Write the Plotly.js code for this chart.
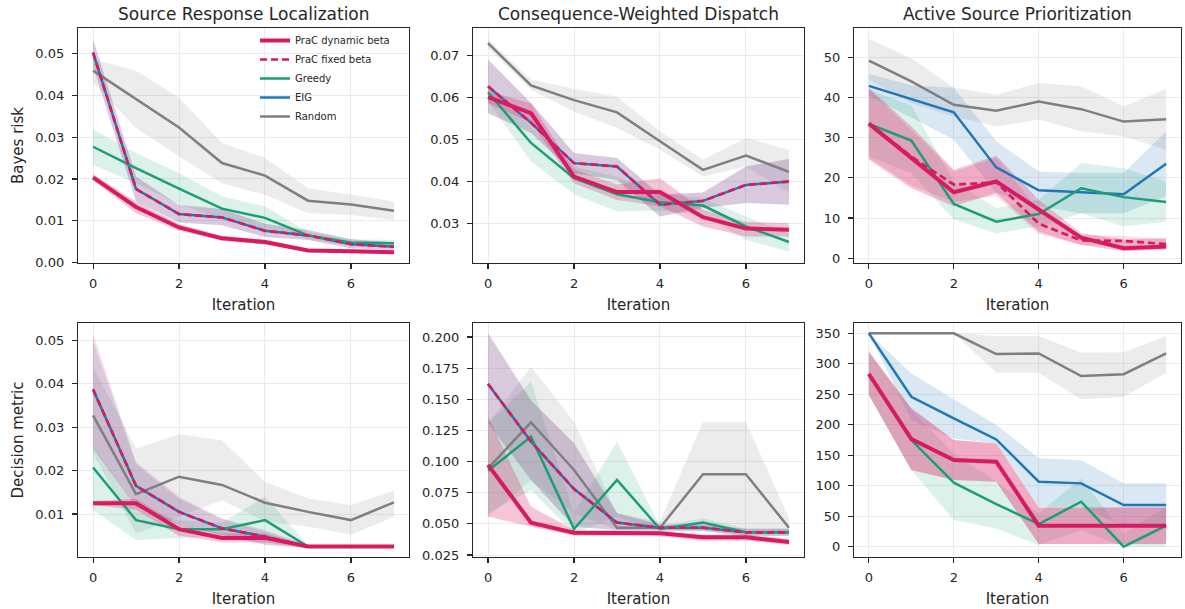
<!DOCTYPE html>
<html>
<head>
<meta charset="utf-8">
<script src="https://cdn.plot.ly/plotly-3.0.1.min.js"></script>
<style>html,body{margin:0;padding:0;background:#fff;}#chart{width:1185px;height:609px;}</style>
</head>
<body>
<div id="chart"></div>
<script>
// ---------- data ----------
const iterations = [0, 1, 2, 3, 4, 5, 6, 7];
const methodNames = ["PraC dynamic beta", "PraC fixed beta", "Greedy", "EIG", "Random"];
const panelTitles = ["Source Response Localization", "Consequence-Weighted Dispatch", "Active Source Prioritization"];
const rowLabels = ["Bayes risk", "Decision metric"];

// Source Response Localization - Bayes risk
const srlRisk_dyn      = [0.0204, 0.0133, 0.0084, 0.0058, 0.0049, 0.0029, 0.0027, 0.0025];
const srlRisk_dyn_lo   = [0.0196, 0.0118, 0.0076, 0.0052, 0.0043, 0.0025, 0.0023, 0.0021];
const srlRisk_dyn_hi   = [0.0212, 0.0146, 0.0092, 0.0064, 0.0055, 0.0033, 0.0031, 0.0029];
const srlRisk_fix      = [0.0502, 0.0176, 0.0116, 0.0108, 0.0076, 0.0065, 0.0044, 0.0038];
const srlRisk_fix_lo   = [0.0470, 0.0146, 0.0096, 0.0089, 0.0061, 0.0054, 0.0034, 0.0030];
const srlRisk_fix_hi   = [0.0534, 0.0206, 0.0138, 0.0128, 0.0093, 0.0078, 0.0056, 0.0048];
const srlRisk_grd      = [0.0277, 0.0226, 0.0177, 0.0129, 0.0107, 0.0065, 0.0048, 0.0046];
const srlRisk_grd_lo   = [0.0234, 0.0190, 0.0140, 0.0102, 0.0080, 0.0056, 0.0040, 0.0038];
const srlRisk_grd_hi   = [0.0318, 0.0262, 0.0214, 0.0158, 0.0134, 0.0074, 0.0056, 0.0054];
const srlRisk_eig      = [0.0502, 0.0176, 0.0116, 0.0108, 0.0076, 0.0065, 0.0044, 0.0038];
const srlRisk_eig_lo   = [0.0470, 0.0146, 0.0096, 0.0089, 0.0061, 0.0054, 0.0034, 0.0030];
const srlRisk_eig_hi   = [0.0534, 0.0206, 0.0138, 0.0128, 0.0093, 0.0078, 0.0056, 0.0048];
const srlRisk_rnd      = [0.0459, 0.0390, 0.0323, 0.0238, 0.0208, 0.0148, 0.0139, 0.0124];
const srlRisk_rnd_lo   = [0.0430, 0.0322, 0.0254, 0.0190, 0.0162, 0.0118, 0.0114, 0.0102];
const srlRisk_rnd_hi   = [0.0486, 0.0459, 0.0394, 0.0286, 0.0250, 0.0178, 0.0162, 0.0146];

// Consequence-Weighted Dispatch - Bayes risk
const cwdRisk_dyn      = [0.0600, 0.0562, 0.0411, 0.0374, 0.0374, 0.0314, 0.0287, 0.0284];
const cwdRisk_dyn_lo   = [0.0585, 0.0540, 0.0395, 0.0355, 0.0340, 0.0292, 0.0268, 0.0268];
const cwdRisk_dyn_hi   = [0.0615, 0.0585, 0.0428, 0.0392, 0.0407, 0.0332, 0.0303, 0.0300];
const cwdRisk_fix      = [0.0626, 0.0539, 0.0443, 0.0435, 0.0344, 0.0353, 0.0391, 0.0399];
const cwdRisk_fix_lo   = [0.0562, 0.0515, 0.0419, 0.0403, 0.0316, 0.0336, 0.0348, 0.0344];
const cwdRisk_fix_hi   = [0.0690, 0.0586, 0.0467, 0.0455, 0.0368, 0.0373, 0.0435, 0.0453];
const cwdRisk_grd      = [0.0612, 0.0491, 0.0407, 0.0369, 0.0350, 0.0342, 0.0292, 0.0255];
const cwdRisk_grd_lo   = [0.0590, 0.0447, 0.0368, 0.0328, 0.0330, 0.0320, 0.0260, 0.0232];
const cwdRisk_grd_hi   = [0.0625, 0.0531, 0.0435, 0.0410, 0.0370, 0.0360, 0.0316, 0.0276];
const cwdRisk_eig      = [0.0626, 0.0539, 0.0443, 0.0435, 0.0344, 0.0353, 0.0391, 0.0399];
const cwdRisk_eig_lo   = [0.0562, 0.0515, 0.0419, 0.0403, 0.0316, 0.0336, 0.0348, 0.0344];
const cwdRisk_eig_hi   = [0.0690, 0.0586, 0.0467, 0.0455, 0.0368, 0.0373, 0.0435, 0.0453];
const cwdRisk_rnd      = [0.0729, 0.0628, 0.0593, 0.0564, 0.0495, 0.0427, 0.0461, 0.0422];
const cwdRisk_rnd_lo   = [0.0717, 0.0618, 0.0566, 0.0527, 0.0475, 0.0411, 0.0435, 0.0372];
const cwdRisk_rnd_hi   = [0.0739, 0.0642, 0.0620, 0.0601, 0.0519, 0.0451, 0.0503, 0.0475];

// Active Source Prioritization - Bayes risk
const aspRisk_dyn      = [33.5, 24.9, 16.4, 19.1, 12.0, 5.1, 2.5, 2.9];
const aspRisk_dyn_lo   = [24.5, 17.4, 12.9, 16.2, 6.6, 3.3, 1.7, 2.1];
const aspRisk_dyn_hi   = [42.4, 32.8, 22.0, 25.5, 14.5, 6.2, 4.6, 5.0];
const aspRisk_fix      = [33.5, 25.3, 18.3, 18.9, 8.6, 4.4, 4.3, 3.5];
const aspRisk_fix_lo   = [25.0, 18.0, 14.0, 15.5, 6.0, 3.3, 3.0, 2.3];
const aspRisk_fix_hi   = [42.0, 32.0, 21.5, 25.0, 12.0, 5.8, 5.5, 4.7];
const aspRisk_grd      = [33.4, 29.3, 13.5, 9.1, 11.0, 17.4, 15.2, 14.0];
const aspRisk_grd_lo   = [25.3, 21.2, 9.6, 6.2, 7.9, 11.2, 7.9, 9.1];
const aspRisk_grd_hi   = [41.9, 38.0, 19.1, 12.5, 14.5, 23.7, 22.4, 19.1];
const aspRisk_eig      = [42.9, 39.6, 36.3, 22.6, 16.9, 16.4, 15.9, 23.5];
const aspRisk_eig_lo   = [40.3, 35.0, 29.5, 16.2, 12.9, 11.2, 11.2, 15.4];
const aspRisk_eig_hi   = [45.9, 43.0, 42.4, 29.1, 21.6, 21.2, 21.2, 31.6];
const aspRisk_rnd      = [49.2, 44.0, 38.2, 36.7, 39.0, 37.1, 34.0, 34.6];
const aspRisk_rnd_lo   = [44.4, 38.6, 35.3, 32.8, 34.5, 31.6, 30.3, 27.0];
const aspRisk_rnd_hi   = [54.6, 49.8, 42.4, 40.7, 43.6, 42.8, 37.8, 42.1];

// Source Response Localization - Decision metric
const srlDec_dyn       = [0.0125, 0.0125, 0.0065, 0.0045, 0.0045, 0.0025, 0.0025, 0.0025];
const srlDec_dyn_lo    = [0.0120, 0.0110, 0.0050, 0.0035, 0.0035, 0.0022, 0.0022, 0.0022];
const srlDec_dyn_hi    = [0.0130, 0.0135, 0.0075, 0.0055, 0.0055, 0.0028, 0.0028, 0.0028];
const srlDec_fix       = [0.0387, 0.0165, 0.0105, 0.0067, 0.0048, 0.0025, 0.0025, 0.0025];
const srlDec_fix_lo    = [0.0251, 0.0117, 0.0075, 0.0052, 0.0029, 0.0022, 0.0022, 0.0022];
const srlDec_fix_hi    = [0.0516, 0.0220, 0.0140, 0.0090, 0.0063, 0.0028, 0.0028, 0.0028];
const srlDec_grd       = [0.0207, 0.0086, 0.0065, 0.0065, 0.0086, 0.0025, 0.0025, 0.0025];
const srlDec_grd_lo    = [0.0109, 0.0040, 0.0045, 0.0050, 0.0044, 0.0022, 0.0022, 0.0022];
const srlDec_grd_hi    = [0.0255, 0.0118, 0.0085, 0.0080, 0.0140, 0.0028, 0.0028, 0.0028];
const srlDec_eig       = [0.0387, 0.0165, 0.0105, 0.0067, 0.0048, 0.0025, 0.0025, 0.0025];
const srlDec_eig_lo    = [0.0251, 0.0117, 0.0075, 0.0052, 0.0029, 0.0022, 0.0022, 0.0022];
const srlDec_eig_hi    = [0.0500, 0.0215, 0.0135, 0.0088, 0.0060, 0.0028, 0.0028, 0.0028];
const srlDec_rnd       = [0.0327, 0.0146, 0.0186, 0.0167, 0.0126, 0.0105, 0.0086, 0.0127];
const srlDec_rnd_lo    = [0.0240, 0.0055, 0.0094, 0.0132, 0.0082, 0.0071, 0.0052, 0.0094];
const srlDec_rnd_hi    = [0.0439, 0.0251, 0.0284, 0.0270, 0.0174, 0.0136, 0.0121, 0.0154];

// Consequence-Weighted Dispatch - Decision metric
const cwdDec_dyn       = [0.0973, 0.0510, 0.0429, 0.0429, 0.0424, 0.0392, 0.0392, 0.0354];
const cwdDec_dyn_lo    = [0.0558, 0.0477, 0.0405, 0.0405, 0.0400, 0.0365, 0.0365, 0.0330];
const cwdDec_dyn_hi    = [0.1360, 0.0638, 0.0450, 0.0450, 0.0445, 0.0415, 0.0415, 0.0378];
const cwdDec_fix       = [0.1623, 0.1160, 0.0780, 0.0510, 0.0469, 0.0469, 0.0432, 0.0432];
const cwdDec_fix_lo    = [0.1307, 0.0852, 0.0477, 0.0450, 0.0445, 0.0445, 0.0405, 0.0405];
const cwdDec_fix_hi    = [0.2030, 0.1490, 0.1146, 0.0585, 0.0495, 0.0495, 0.0460, 0.0460];
const cwdDec_grd       = [0.0927, 0.1200, 0.0459, 0.0852, 0.0459, 0.0510, 0.0432, 0.0432];
const cwdDec_grd_lo    = [0.0585, 0.0770, 0.0424, 0.0558, 0.0440, 0.0440, 0.0405, 0.0405];
const cwdDec_grd_hi    = [0.1307, 0.1640, 0.0585, 0.1160, 0.0480, 0.0545, 0.0460, 0.0460];
const cwdDec_eig       = [0.1623, 0.1160, 0.0780, 0.0510, 0.0469, 0.0469, 0.0432, 0.0432];
const cwdDec_eig_lo    = [0.1307, 0.0852, 0.0477, 0.0450, 0.0445, 0.0445, 0.0405, 0.0405];
const cwdDec_eig_hi    = [0.2030, 0.1490, 0.1146, 0.0585, 0.0495, 0.0495, 0.0460, 0.0460];
const cwdDec_rnd       = [0.0946, 0.1315, 0.0932, 0.0469, 0.0469, 0.0898, 0.0898, 0.0469];
const cwdDec_rnd_lo    = [0.0558, 0.0852, 0.0585, 0.0450, 0.0450, 0.0450, 0.0450, 0.0420];
const cwdDec_rnd_hi    = [0.1307, 0.1760, 0.1320, 0.0585, 0.0518, 0.1320, 0.1320, 0.0544];

// Active Source Prioritization - Decision metric
const aspDec_dyn       = [283.3, 176.6, 142.2, 139.5, 34.5, 34.5, 34.5, 34.5];
const aspDec_dyn_lo    = [248.8, 125.8, 109.4, 106.6, 4.4, 4.4, 4.4, 4.4];
const aspDec_dyn_hi    = [320.0, 227.0, 175.0, 169.5, 64.5, 64.5, 64.5, 64.5];
const aspDec_fix       = [283.3, 176.6, 142.2, 139.5, 34.5, 34.5, 34.5, 34.5];
const aspDec_fix_lo    = [248.8, 125.8, 109.4, 106.6, 4.4, 4.4, 4.4, 4.4];
const aspDec_fix_hi    = [320.0, 227.0, 175.0, 169.5, 64.5, 64.5, 64.5, 64.5];
const aspDec_grd       = [283.3, 175.0, 105.0, 70.0, 37.2, 73.8, 0.0, 34.5];
const aspDec_grd_lo    = [248.8, 125.8, 43.8, 30.0, 2.7, 27.0, 0.0, 0.0];
const aspDec_grd_hi    = [320.0, 224.0, 153.0, 106.6, 54.7, 112.0, 21.9, 65.6];
const aspDec_eig       = [350.0, 246.0, 210.5, 176.0, 106.6, 103.9, 68.4, 68.4];
const aspDec_eig_lo    = [350.0, 208.0, 177.7, 169.5, 65.6, 65.6, 32.8, 32.8];
const aspDec_eig_hi    = [350.0, 284.0, 241.7, 199.6, 145.0, 142.0, 104.0, 104.0];
const aspDec_rnd       = [350.0, 350.0, 350.0, 316.0, 317.0, 280.0, 283.0, 317.0];
const aspDec_rnd_lo    = [350.0, 350.0, 350.0, 285.5, 285.5, 241.7, 246.0, 285.5];
const aspDec_rnd_hi    = [350.0, 350.0, 350.0, 345.6, 345.6, 318.0, 319.0, 345.6];

// ---------- styling ----------
const FONT = "DejaVu Sans, Liberation Sans, sans-serif";
const INK = "#262626";
const colors = {dyn: "#d81b60", fix: "#d81b60", grd: "#1b9e77", eig: "#1f77b4", rnd: "#7f7f7f"};
const bandAlpha = {dyn: 0.25, fix: 0.15, grd: 0.15, eig: 0.17, rnd: 0.15};
const widths = {dyn: 4, fix: 2.7, grd: 2.5, eig: 2.5, rnd: 2.5};
const dashes = {dyn: "solid", fix: "7px,4px", grd: "solid", eig: "solid", rnd: "solid"};
const names = {dyn: methodNames[0], fix: methodNames[1], grd: methodNames[2], eig: methodNames[3], rnd: methodNames[4]};
const ranks = {dyn: 1, fix: 2, grd: 3, eig: 4, rnd: 5};
const drawOrder = ["rnd", "eig", "grd", "fix", "dyn"];

function rgba(hex, a) {
  const r = parseInt(hex.slice(1, 3), 16), g = parseInt(hex.slice(3, 5), 16), b = parseInt(hex.slice(5, 7), 16);
  return `rgba(${r},${g},${b},${a})`;
}

const panels = [
  {n: 1, data: {dyn: [srlRisk_dyn, srlRisk_dyn_lo, srlRisk_dyn_hi], fix: [srlRisk_fix, srlRisk_fix_lo, srlRisk_fix_hi], grd: [srlRisk_grd, srlRisk_grd_lo, srlRisk_grd_hi], eig: [srlRisk_eig, srlRisk_eig_lo, srlRisk_eig_hi], rnd: [srlRisk_rnd, srlRisk_rnd_lo, srlRisk_rnd_hi]}},
  {n: 2, data: {dyn: [cwdRisk_dyn, cwdRisk_dyn_lo, cwdRisk_dyn_hi], fix: [cwdRisk_fix, cwdRisk_fix_lo, cwdRisk_fix_hi], grd: [cwdRisk_grd, cwdRisk_grd_lo, cwdRisk_grd_hi], eig: [cwdRisk_eig, cwdRisk_eig_lo, cwdRisk_eig_hi], rnd: [cwdRisk_rnd, cwdRisk_rnd_lo, cwdRisk_rnd_hi]}},
  {n: 3, data: {dyn: [aspRisk_dyn, aspRisk_dyn_lo, aspRisk_dyn_hi], fix: [aspRisk_fix, aspRisk_fix_lo, aspRisk_fix_hi], grd: [aspRisk_grd, aspRisk_grd_lo, aspRisk_grd_hi], eig: [aspRisk_eig, aspRisk_eig_lo, aspRisk_eig_hi], rnd: [aspRisk_rnd, aspRisk_rnd_lo, aspRisk_rnd_hi]}},
  {n: 4, data: {dyn: [srlDec_dyn, srlDec_dyn_lo, srlDec_dyn_hi], fix: [srlDec_fix, srlDec_fix_lo, srlDec_fix_hi], grd: [srlDec_grd, srlDec_grd_lo, srlDec_grd_hi], eig: [srlDec_eig, srlDec_eig_lo, srlDec_eig_hi], rnd: [srlDec_rnd, srlDec_rnd_lo, srlDec_rnd_hi]}},
  {n: 5, data: {dyn: [cwdDec_dyn, cwdDec_dyn_lo, cwdDec_dyn_hi], fix: [cwdDec_fix, cwdDec_fix_lo, cwdDec_fix_hi], grd: [cwdDec_grd, cwdDec_grd_lo, cwdDec_grd_hi], eig: [cwdDec_eig, cwdDec_eig_lo, cwdDec_eig_hi], rnd: [cwdDec_rnd, cwdDec_rnd_lo, cwdDec_rnd_hi]}},
  {n: 6, data: {dyn: [aspDec_dyn, aspDec_dyn_lo, aspDec_dyn_hi], fix: [aspDec_fix, aspDec_fix_lo, aspDec_fix_hi], grd: [aspDec_grd, aspDec_grd_lo, aspDec_grd_hi], eig: [aspDec_eig, aspDec_eig_lo, aspDec_eig_hi], rnd: [aspDec_rnd, aspDec_rnd_lo, aspDec_rnd_hi]}}
];

const traces = [];
panels.forEach(p => {
  const xa = p.n === 1 ? "x" : "x" + p.n;
  const ya = p.n === 1 ? "y" : "y" + p.n;
  drawOrder.forEach(k => {
    const [m, lo, hi] = p.data[k];
    traces.push({
      type: "scatter", mode: "lines", xaxis: xa, yaxis: ya,
      x: iterations.concat(iterations.slice().reverse()),
      y: hi.concat(lo.slice().reverse()),
      fill: "toself", fillcolor: rgba(colors[k], bandAlpha[k]),
      line: {width: 0, color: "rgba(0,0,0,0)"},
      hoverinfo: "skip", showlegend: false
    });
  });
  drawOrder.forEach(k => {
    const [m] = p.data[k];
    traces.push({
      type: "scatter", mode: "lines", xaxis: xa, yaxis: ya,
      x: iterations, y: m, name: names[k],
      line: {color: colors[k], width: widths[k], dash: dashes[k]},
      legendgroup: k, legendrank: ranks[k],
      showlegend: p.n === 1
    });
  });
});

// ---------- layout ----------
const W = 1185, H = 609;
const colPx = [[78, 409], [473, 804], [854, 1181]];
const rowPx = [[28, 263], [323, 557]];
const yRanges = [[-0.0001, 0.0561], [0.0205, 0.0765], [-1.2, 57.3], [0.0001, 0.054], [0.0234, 0.2112], [-16.9, 367]];
const yTicks = [
  [0, 0.01, 0.02, 0.03, 0.04, 0.05],
  [0.03, 0.04, 0.05, 0.06, 0.07],
  [0, 10, 20, 30, 40, 50],
  [0.01, 0.02, 0.03, 0.04, 0.05],
  [0.025, 0.05, 0.075, 0.1, 0.125, 0.15, 0.175, 0.2],
  [0, 50, 100, 150, 200, 250, 300, 350]
];
const yFormats = [".2f", ".2f", "d", ".2f", ".3f", "d"];

const layout = {
  width: W, height: H,
  margin: {l: 0, r: 0, t: 0, b: 0},
  paper_bgcolor: "#fff", plot_bgcolor: "#fff",
  font: {family: FONT, color: INK, size: 12},
  showlegend: true,
  legend: {
    x: 255 / W, y: 1 - 26 / H, xanchor: "left", yanchor: "top",
    bgcolor: "rgba(0,0,0,0)", borderwidth: 0,
    font: {family: FONT, size: 10, color: INK},
    itemwidth: 30, tracegroupgap: 0
  },
  annotations: []
};

const axisCommon = {
  showline: true, mirror: true, linecolor: INK, linewidth: 1.1,
  ticks: "outside", ticklen: 5, tickwidth: 1.1, tickcolor: INK,
  showgrid: true, gridcolor: "#ebebeb", gridwidth: 1,
  zeroline: false, tickfont: {family: FONT, size: 13, color: INK},
  automargin: false
};

for (let i = 0; i < 6; i++) {
  const row = Math.floor(i / 3), col = i % 3;
  const xKey = i === 0 ? "xaxis" : "xaxis" + (i + 1);
  const yKey = i === 0 ? "yaxis" : "yaxis" + (i + 1);
  const yId = i === 0 ? "y" : "y" + (i + 1);
  const xId = i === 0 ? "x" : "x" + (i + 1);
  layout[xKey] = Object.assign({}, axisCommon, {
    domain: [colPx[col][0] / W, colPx[col][1] / W],
    anchor: yId, range: [-0.35, 7.35],
    tickmode: "array", tickvals: [0, 2, 4, 6], ticklabelstandoff: 3,
    title: {text: "Iteration", font: {family: FONT, size: 15, color: INK}, standoff: 9}
  });
  layout[yKey] = Object.assign({}, axisCommon, {
    domain: [1 - rowPx[row][1] / H, 1 - rowPx[row][0] / H],
    anchor: xId, range: yRanges[i],
    tickmode: "array", tickvals: yTicks[i], tickformat: yFormats[i], ticklabelstandoff: 5,
    title: {text: col === 0 ? rowLabels[row] : "", font: {family: FONT, size: 15, color: INK}, standoff: 8}
  });
}

panelTitles.forEach((t, c) => {
  layout.annotations.push({
    text: t, xref: "paper", yref: "paper",
    x: (colPx[c][0] + colPx[c][1]) / 2 / W, y: 1 - 13.5 / H,
    xanchor: "center", yanchor: "middle", showarrow: false,
    font: {family: FONT, size: 17, color: INK}
  });
});

Plotly.newPlot("chart", traces, layout, {displayModeBar: false, staticPlot: true});
</script>
</body>
</html>
